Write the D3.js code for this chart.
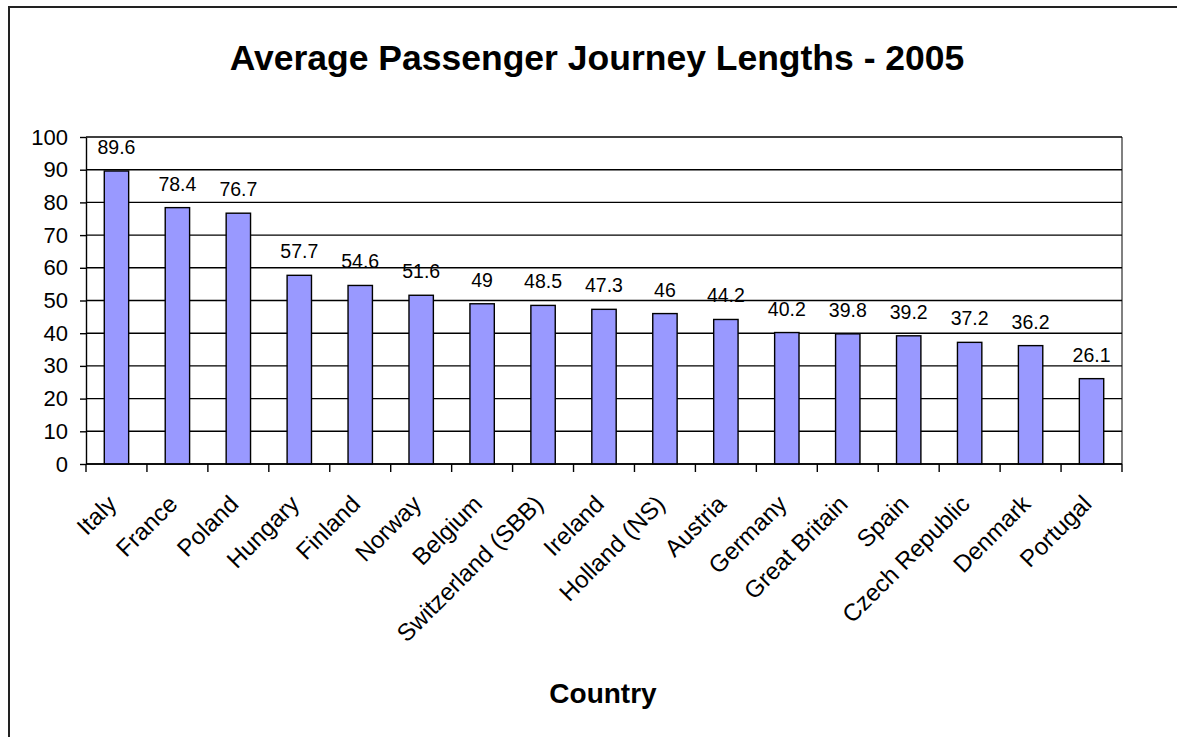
<!DOCTYPE html>
<html>
<head>
<meta charset="utf-8">
<script src="https://cdn.jsdelivr.net/npm/d3@7"></script>
<style>
  body { margin: 0; background: #fff; }
  svg { display: block; font-family: 'Liberation Sans', Arial, Helvetica, sans-serif; }
</style>
</head>
<body>
<div id="chart"></div>
<script>
// data
const countries = ['Italy', 'France', 'Poland', 'Hungary', 'Finland', 'Norway', 'Belgium',
  'Switzerland (SBB)', 'Ireland', 'Holland (NS)', 'Austria', 'Germany', 'Great Britain',
  'Spain', 'Czech Republic', 'Denmark', 'Portugal'];
const journeyKm = [89.6, 78.4, 76.7, 57.7, 54.6, 51.6, 49, 48.5, 47.3, 46, 44.2, 40.2,
  39.8, 39.2, 37.2, 36.2, 26.1];
const yTicks = [0, 10, 20, 30, 40, 50, 60, 70, 80, 90, 100];

const size = { width: 1177, height: 737 };
const margin = { left: 86, right: 55, top: 137, bottom: 273 };
const plotW = size.width - margin.left - margin.right;
const plotH = size.height - margin.top - margin.bottom;

const data = countries.map((c, i) => ({ country: c, value: journeyKm[i] }));

const svg = d3.select('#chart')
  .append('svg')
  .attr('width', size.width)
  .attr('height', size.height);

// chart frame (only top and left edges fall inside the picture)
svg.append('path')
  .attr('d', `M9,${size.height + 5} L9,7 L${size.width + 5},7`)
  .attr('fill', 'none')
  .attr('stroke', '#222')
  .attr('stroke-width', 2);

svg.append('text')
  .attr('x', 597)
  .attr('y', 70)
  .attr('text-anchor', 'middle')
  .style('font-size', '35.5px')
  .style('font-weight', 'bold')
  .text('Average Passenger Journey Lengths - 2005');

const g = svg.append('g')
  .attr('transform', `translate(${margin.left},${margin.top})`);

const x = d3.scaleBand().domain(countries).range([0, plotW]).padding(0);
const y = d3.scaleLinear().domain([0, 100]).range([plotH, 0]);

// right edge of plot area (grey)
g.append('line')
  .attr('x1', plotW).attr('x2', plotW)
  .attr('y1', 0).attr('y2', plotH)
  .attr('stroke', '#808080')
  .attr('stroke-width', 2);

// gridlines
g.selectAll('.grid')
  .data(yTicks)
  .enter()
  .append('line')
  .attr('class', 'grid')
  .attr('x1', 0).attr('x2', plotW)
  .attr('y1', (d) => y(d)).attr('y2', (d) => y(d))
  .attr('stroke', '#000')
  .attr('stroke-width', 1.4);

// bars
const barW = x.bandwidth() * 0.4;
g.selectAll('.bar')
  .data(data)
  .enter()
  .append('rect')
  .attr('class', 'bar')
  .attr('x', (d) => x(d.country) + (x.bandwidth() - barW) / 2)
  .attr('y', (d) => y(d.value))
  .attr('width', barW)
  .attr('height', (d) => plotH - y(d.value))
  .attr('fill', '#9999FF')
  .attr('stroke', '#000')
  .attr('stroke-width', 1.4);

// value labels
g.selectAll('.val')
  .data(data)
  .enter()
  .append('text')
  .attr('class', 'val')
  .attr('x', (d) => x(d.country) + x.bandwidth() / 2)
  .attr('y', (d) => y(d.value) - 17)
  .attr('text-anchor', 'middle')
  .style('font-size', '19.5px')
  .text((d) => d.value);

// y axis
const yAxis = g.append('g')
  .call(d3.axisLeft(y).tickValues(yTicks).tickSize(6).tickPadding(12).tickSizeOuter(0));
yAxis.select('.domain').attr('stroke', '#000').attr('stroke-width', 1.4);
yAxis.selectAll('line').attr('stroke-width', 1.4);
yAxis.selectAll('text')
  .style('font-size', '22px')
  .attr('fill', '#000')
  .style('font-family', "'Liberation Sans', Arial, sans-serif");

// x axis: ticks on category boundaries
const bounds = countries.map((c) => x(c)).concat([plotW]);
const xAxis = g.append('g').attr('transform', `translate(0,${plotH})`);
xAxis.append('line')
  .attr('x1', 0).attr('x2', plotW)
  .attr('stroke', '#000')
  .attr('stroke-width', 1.4);
xAxis.selectAll('.xtick')
  .data(bounds)
  .enter()
  .append('line')
  .attr('class', 'xtick')
  .attr('x1', (d) => d).attr('x2', (d) => d)
  .attr('y1', 0).attr('y2', 8)
  .attr('stroke', '#000')
  .attr('stroke-width', 1.4);

xAxis.selectAll('.xlab')
  .data(countries)
  .enter()
  .append('text')
  .attr('class', 'xlab')
  .attr('text-anchor', 'end')
  .attr('transform', (d) => `translate(${x(d) + x.bandwidth() / 2 + 1.5},${41.5}) rotate(-45)`)
  .style('font-size', '24px')
  .text((d) => d);

svg.append('text')
  .attr('x', 603)
  .attr('y', 703)
  .attr('text-anchor', 'middle')
  .style('font-size', '28px')
  .style('font-weight', 'bold')
  .text('Country');
</script>
</body>
</html>
